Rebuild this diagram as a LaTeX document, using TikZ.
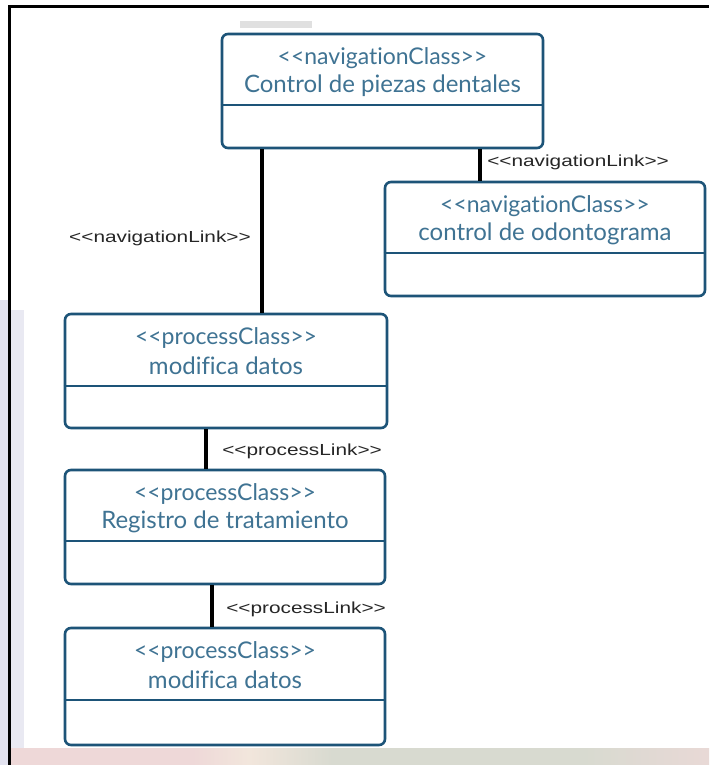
\documentclass[tikz,border=0pt]{standalone}
\usepackage{fontspec}
\setmainfont{Lato}[Ligatures=NoCommon]
\newfontfamily\lblfont{Liberation Sans}
\usetikzlibrary{calc}
\definecolor{umlborder}{HTML}{1D5478}
\definecolor{umltext}{HTML}{3F7393}
\definecolor{lav}{HTML}{D6D6E8}
\definecolor{pinkish}{HTML}{EED8D8}
\definecolor{peach}{HTML}{F2E6DC}
\definecolor{sage}{HTML}{D8DAD0}
\pgfdeclarehorizontalshading{stripe}{100bp}{
  color(0bp)=(lav); color(12bp)=(lav); color(22bp)=(pinkish);
  color(38bp)=(pinkish); color(42bp)=(peach); color(48bp)=(sage);
  color(66bp)=(sage); color(78bp)=(pinkish); color(88bp)=(lav);
  color(100bp)=(lav)}
\begin{document}
\begin{tikzpicture}[x=1pt,y=-1pt,
  umlbox/.style={draw=umlborder,line width=2.6pt,rounded corners=6pt,fill=white,
    minimum width=#1,minimum height=114pt,inner sep=0pt},
  umlbox/.default=320pt,
  stereo/.style={text=umltext,font=\fontsize{23}{25}\selectfont,inner sep=0pt},
  cname/.style={text=umltext,font=\fontsize{24}{26}\selectfont,inner sep=0pt},
  divider/.style={draw=umlborder,line width=2.6pt},
  link/.style={draw=black,line width=4pt},
  linklabel/.style={font=\lblfont\fontsize{16}{18}\selectfont,text=black!85,
    xscale=1.3,inner sep=0pt},
  frameline/.style={draw=black,line width=3pt}]
% page extent and background
\useasboundingbox (0,0) rectangle (709,765);
\fill[white] (0,0) rectangle (709,765);
\fill[lav!70] (0,300) rectangle (8,765);
\fill[lav!55] (11,310) rectangle (24,748);
\shade[shading=stripe] (11,748) rectangle (709,765);
\fill[black!12] (240,21) rectangle (312,28);
% outer frame
\draw[frameline] (9,765) -- (9,7) -- (709,7);

% classes
\node[umlbox=321pt] (b1) at (382.5,91) {};
\node[umlbox] (b2) at (545,239) {};
\node[umlbox=322pt] (b3) at (226,371) {};
\node[umlbox] (b4) at (225,527) {};
\node[umlbox,minimum height=117pt] (b5) at (225,686.5) {};

% compartment dividers
\coordinate (d1) at (0,105);
\coordinate (d2) at (0,253);
\coordinate (d3) at (0,386);
\coordinate (d4) at (0,541);
\coordinate (d5) at (0,700);
\draw[divider] (b1.west |- d1) -- (b1.east |- d1);
\draw[divider] (b2.west |- d2) -- (b2.east |- d2);
\draw[divider] (b3.west |- d3) -- (b3.east |- d3);
\draw[divider] (b4.west |- d4) -- (b4.east |- d4);
\draw[divider] (b5.west |- d5) -- (b5.east |- d5);

% class texts
\node[stereo] (s1) at (382.5,58) {<{}<navigationClass>{}>};
\node[cname]  (n1) at (382.5,86) {Control de piezas dentales};
\node[stereo] (s2) at (545,206) {<{}<navigationClass>{}>};
\node[cname]  (n2) at (545,234) {control de odontograma};
\node[stereo] (s3) at (226,338) {<{}<processClass>{}>};
\node[cname]  (n3) at (226,366) {modifica datos};
\node[stereo] (s4) at (225,494) {<{}<processClass>{}>};
\node[cname]  (n4) at (225,522) {Registro de tratamiento};
\node[stereo] (s5) at (225,652) {<{}<processClass>{}>};
\node[cname]  (n5) at (225,680) {modifica datos};

% links
\coordinate (k1) at (262,0);
\coordinate (k2) at (480,0);
\coordinate (k3) at (206,0);
\coordinate (k4) at (212,0);
\draw[link] (b1.south -| k1) -- (b3.north -| k1);
\draw[link] (b1.south -| k2) -- (b2.north -| k2);
\draw[link] (b3.south -| k3) -- (b4.north -| k3);
\draw[link] (b4.south -| k4) -- (b5.north -| k4);

% link labels
\node[linklabel] (l1) at (160,238) {<{}<navigationLink>{}>};
\node[linklabel,anchor=west] (l2) at (487,162) {<{}<navigationLink>{}>};
\node[linklabel,anchor=west] (l3) at (222,451) {<{}<processLink>{}>};
\node[linklabel,anchor=west] (l4) at (226,609) {<{}<processLink>{}>};
\end{tikzpicture}
\end{document}
